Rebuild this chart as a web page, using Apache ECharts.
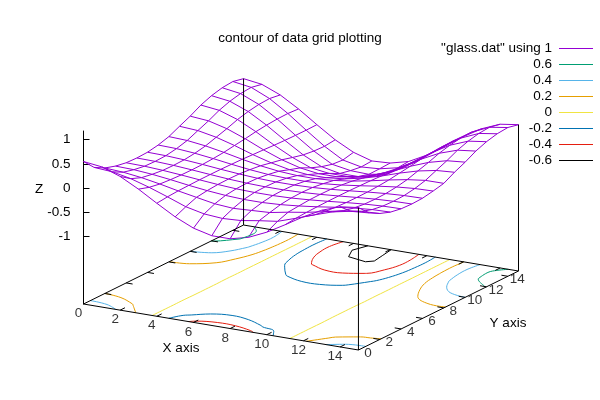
<!DOCTYPE html>
<html>
<head>
<meta charset="utf-8">
<style>html,body{margin:0;padding:0;background:#fff}#main{width:600px;height:400px}</style>
<script src="https://cdn.jsdelivr.net/npm/echarts@6/dist/echarts.min.js"></script>
</head>
<body>
<div id="main"></div>
<script>
// z values, zGrid[y][x], y = 0 is the front row
const zGrid = [
    [.55, .503, .368, .17, -.058, -.275, -.445, -.538, -.538, -.445, -.275, -.058, .17, .368, .503, .55],
    [.32, .292, .214, .099, -.034, -.175, -.26, -.29, -.27, -.21, -.16, -.034, .099, .225, .30, .33],
    [.20, .176, .127, .059, -.02, -.09, -.16, -.19, -.17, -.15, -.08, -.02, .059, .14, .19, .21],
    [.13, .119, .087, .04, -.014, -.06, -.095, -.115, -.115, -.095, -.06, -.014, .04, .087, .119, .13],
    [.09, .082, .06, .028, -.009, -.042, -.068, -.08, -.08, -.068, -.042, -.009, .028, .06, .082, .09],
    [.08, .073, .054, .025, -.008, -.038, -.06, -.072, -.072, -.06, -.038, -.008, .025, .054, .073, .08],
    [.09, .082, .06, .028, -.009, -.042, -.068, -.08, -.08, -.068, -.042, -.009, .028, .06, .082, .09],
    [.13, .119, .087, .04, -.014, -.062, -.098, -.112, -.112, -.098, -.062, -.014, .04, .087, .119, .13],
    [.195, .178, .13, .06, -.02, -.09, -.14, -.166, -.166, -.14, -.09, -.02, .06, .13, .178, .18],
    [.30, .274, .20, .093, -.032, -.138, -.216, -.255, -.255, -.216, -.138, -.032, .093, .20, .274, .30],
    [.40, .366, .268, .124, -.042, -.184, -.288, -.344, -.344, -.288, -.184, -.042, .124, .268, .366, .40],
    [.52, .475, .348, .161, -.055, -.245, -.395, -.447, -.447, -.395, -.245, -.055, .161, .348, .475, .52],
    [.605, .553, .405, .187, -.064, -.30, -.48, -.557, -.557, -.48, -.30, -.064, .187, .405, .553, .605],
    [.66, .603, .442, .204, -.069, -.33, -.54, -.607, -.62, -.553, -.33, -.069, .204, .442, .603, .66],
    [.68, .622, .455, .21, -.071, -.34, -.56, -.64, -.615, -.53, -.34, -.071, .21, .455, .622, .68],
    [.63, .576, .421, .195, -.066, -.315, -.51, -.625, -.605, -.51, -.315, -.066, .195, .421, .576, .63]
];
const levels = [0.6, 0.4, 0.2, 0, -0.2, -0.4, -0.6];
const levelColors = ['#009e73', '#56b4e9', '#e69f00', '#f0e442', '#0072b2', '#e51e10', '#000000'];
const xTicks = [0, 2, 4, 6, 8, 10, 12, 14];
const yTicks = [0, 2, 4, 6, 8, 10, 12, 14];
const zTicks = [-1, -0.5, 0, 0.5, 1];
const surfaceName = '"glass.dat" using 1';
const xyMax = 15;

const fontFamily = '"Liberation Sans", Arial, sans-serif';
const fontSize = 13.5;
const BREAK = [NaN, NaN];

// view of the box: px per unit along x and y, px per unit of z
const PX = { xh: 18.33, xv: 3.07, yh: 10.67, yv: -5.27, z: 48.5 };
const zBase = -2.39;
const zTop = 1.18;

function project(x, y, z) {
    return [PX.xh * x + PX.yh * y, z - (PX.xv * x + PX.yv * y) / PX.z];
}

function surfaceLines() {
    const pts = [];
    const n = zGrid.length;
    for (let y = 0; y < n; y++) {
        for (let x = 0; x < n; x++) pts.push(project(x, y, zGrid[y][x]));
        pts.push(BREAK);
    }
    for (let x = 0; x < n; x++) {
        for (let y = 0; y < n; y++) pts.push(project(x, y, zGrid[y][x]));
        pts.push(BREAK);
    }
    return pts;
}

// contour on the base plane: segments cell by cell, then chained into paths
function contourLines(level) {
    const n = zGrid.length;
    const cross = (x0, y0, x1, y1) => {
        const a = zGrid[y0][x0], b = zGrid[y1][x1];
        if ((a >= level) === (b >= level)) return null;
        const t = (level - a) / (b - a);
        return project(x0 + (x1 - x0) * t, y0 + (y1 - y0) * t, zBase);
    };
    const segs = [];
    for (let y = 0; y < n - 1; y++) {
        for (let x = 0; x < n - 1; x++) {
            const hits = [
                cross(x, y, x + 1, y),
                cross(x + 1, y, x + 1, y + 1),
                cross(x, y + 1, x + 1, y + 1),
                cross(x, y, x, y + 1)
            ].filter(Boolean);
            for (let i = 0; i + 1 < hits.length; i += 2) segs.push([hits[i], hits[i + 1]]);
        }
    }

    const key = p => p.join(',');
    const links = {};
    segs.forEach((s, i) => {
        s.forEach(p => { (links[key(p)] = links[key(p)] || []).push(i); });
    });
    const used = segs.map(() => false);
    const walk = (start, from) => {
        const path = [from];
        let cur = start, at = from;
        while (cur !== undefined) {
            used[cur] = true;
            const s = segs[cur];
            at = key(s[0]) === key(at) ? s[1] : s[0];
            path.push(at);
            cur = links[key(at)].find(i => !used[i]);
        }
        return path;
    };
    const pts = [];
    // open paths start at a loose end, whatever is left is a closed loop
    segs.forEach((s, i) => {
        if (used[i]) return;
        const end = s.find(p => links[key(p)].length === 1);
        if (end) pts.push(...walk(i, end), BREAK);
    });
    segs.forEach((s, i) => {
        if (!used[i]) pts.push(...walk(i, s[0]), BREAK);
    });
    return pts;
}

function boxLines() {
    const m = xyMax;
    return [
        project(0, 0, zBase), project(m, 0, zBase), project(m, m, zBase), project(0, m, zBase), project(0, 0, zBase), BREAK,
        project(m, 0, zBase), project(m, 0, zGrid[0][m]), BREAK,
        project(m, m, zBase), project(m, m, zGrid[m][m]), BREAK,
        project(0, m, zBase), project(0, m, zGrid[m][0]), BREAK
    ];
}

function tickLines() {
    const m = xyMax, pts = [];
    xTicks.forEach(t => {
        if (t > 0) pts.push(project(t, 0, zBase), project(t, 0.45, zBase), BREAK);
        if (t > 0) pts.push(project(t, m, zBase), project(t, m - 0.45, zBase), BREAK);
    });
    yTicks.forEach(t => {
        if (t > 0) pts.push(project(0, t, zBase), project(0.35, t, zBase), BREAK);
        if (t > 0) pts.push(project(m, t, zBase), project(m - 0.35, t, zBase), BREAK);
    });
    return pts;
}

function tickLabelSeries(ticks, toPoint, offset) {
    return {
        type: 'scatter',
        symbolSize: 0,
        silent: true,
        clip: false,
        data: ticks.map(t => ({ value: toPoint(t), name: String(t) })),
        label: {
            show: true,
            position: 'inside',
            offset: offset,
            formatter: p => p.data.name,
            color: '#000',
            fontSize: fontSize,
            fontFamily: fontFamily
        }
    };
}

function lineSeries(name, color, data, smooth) {
    return {
        name: name,
        type: 'line',
        data: data,
        showSymbol: false,
        symbol: 'none',
        clip: false,
        connectNulls: false,
        silent: true,
        smooth: smooth || false,
        itemStyle: { color: color },
        lineStyle: { color: color, width: 1 }
    };
}

const myChart = echarts.init(document.getElementById('main'), null, { renderer: 'canvas' });

const legendNames = [surfaceName].concat(levels.map(String));

function axisTitle(text, x, y) {
    return { type: 'text', x: x, y: y, style: { text: text, align: 'center', verticalAlign: 'middle', fontSize: fontSize, fontFamily: fontFamily, fill: '#000' } };
}

myChart.setOption({
    animation: false,
    backgroundColor: '#fff',
    title: {
        text: 'contour of data grid plotting',
        left: 'center',
        top: 26,
        textStyle: { fontSize: fontSize, fontWeight: 'normal', color: '#000', fontFamily: fontFamily }
    },
    legend: {
        data: legendNames,
        orient: 'vertical',
        align: 'right',
        right: 7,
        top: 41.5,
        icon: 'rect',
        itemWidth: 34,
        itemHeight: 1,
        itemGap: 2,
        selectedMode: false,
        padding: 0,
        textStyle: { fontSize: fontSize, color: '#000', fontFamily: fontFamily, padding: [0, 2, 0, 0], lineHeight: 14 }
    },
    grid: { left: 83.5, top: 131, width: 435, height: 173 },
    xAxis: { type: 'value', min: 0, max: 435, show: false },
    yAxis: {
        type: 'value',
        min: zBase,
        max: zTop,
        splitLine: { show: false },
        axisLine: { show: true, lineStyle: { color: '#000', width: 1 } },
        axisTick: { show: true, inside: true, length: 6, customValues: zTicks, lineStyle: { color: '#000', width: 1 } },
        axisLabel: { customValues: zTicks, margin: 13, color: '#000', fontSize: fontSize, fontFamily: fontFamily }
    },
    graphic: [
        axisTitle('X axis', 181, 348),
        axisTitle('Y axis', 508, 323),
        axisTitle('Z', 39, 189)
    ],
    series: [
        lineSeries(surfaceName, '#9400d3', surfaceLines())
    ].concat(
        levels.map((lv, i) => lineSeries(String(lv), levelColors[i], contourLines(lv), lv === -0.6 ? false : 0.4)),
        [
            lineSeries('box', '#000', boxLines()),
            lineSeries('ticks', '#000', tickLines()),
            tickLabelSeries(xTicks, t => project(t, 0, zBase), [-5, 9.5]),
            tickLabelSeries(yTicks, t => project(xyMax, t, zBase), [9.5, 3])
        ]
    )
});

window.addEventListener('resize', () => {
    myChart.resize();
});
</script>
</body>
</html>
